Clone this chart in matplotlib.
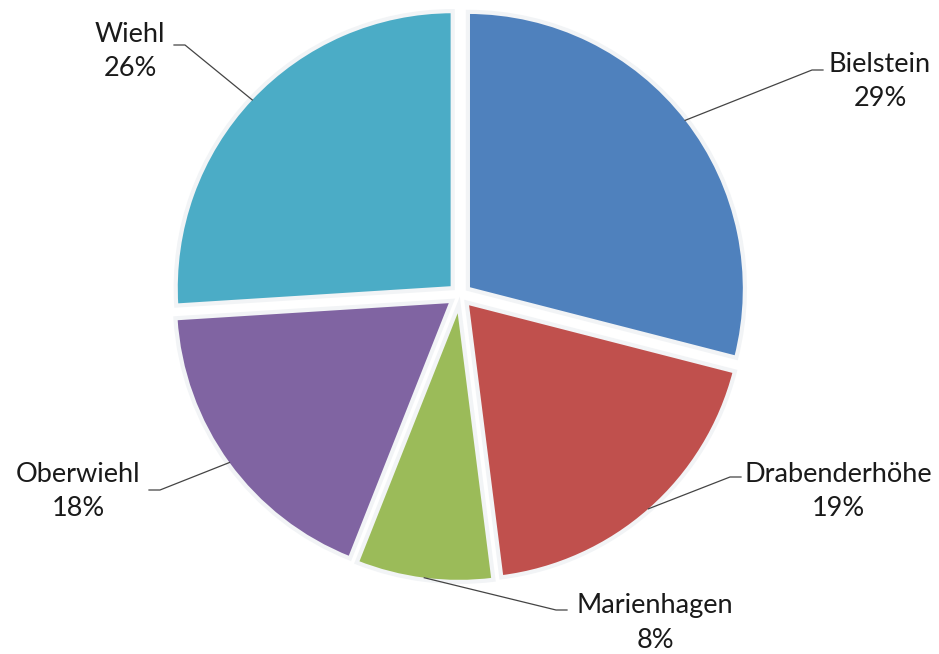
import numpy as np
import matplotlib.pyplot as plt

# Data
labels = ['Bielstein', 'Drabenderhöhe', 'Marienhagen', 'Oberwiehl', 'Wiehl']
shares = [29, 19, 8, 18, 26]
colors = ['#4F81BD', '#C0504D', '#9BBB59', '#8064A2', '#4BACC6']

# label anchor (end of leader line) and text centre, in pixel coords (y from top)
elbow = [(812, 70), (730, 477), (556, 610), (160, 490), (185, 45)]
text_pos = [(880, 82), (838, 491), (655, 623), (78, 492), (130, 52)]

W, H = 939, 654
fig = plt.figure(figsize=(W / 100, H / 100), dpi=100)
ax = fig.add_axes([0, 0, 1, 1])

cx, cy, r = 460, H - 295, 277
expl = 10
wedges, _ = ax.pie(shares, colors=colors, startangle=90, counterclock=False,
                   radius=r, center=(cx, cy), explode=[expl] * len(shares),
                   wedgeprops=dict(edgecolor='#f2f4f6', linewidth=3))

ax.set_xlim(0, W)
ax.set_ylim(0, H)
ax.set_aspect('equal')
ax.axis('off')

# leader lines and labels
for w, name, val, (ex, ey), (tx, ty) in zip(wedges, labels, shares, elbow, text_pos):
    mid = np.deg2rad((w.theta1 + w.theta2) / 2)
    wx, wy = w.center
    sx = wx + (r - 2) * np.cos(mid)
    sy = wy + (r - 2) * np.sin(mid)
    ey = H - ey
    hx = ex + 11 if ex > cx else ex - 11
    ax.plot([sx, ex, hx], [sy, ey, ey], color='#444444', lw=0.9)
    ax.text(tx, H - ty, f'{name}\n{val}%', ha='center', va='center',
            fontsize=19.5, family='Lato', color='#1a1a1a', linespacing=1.45)

fig.savefig('out.png', dpi=100)
